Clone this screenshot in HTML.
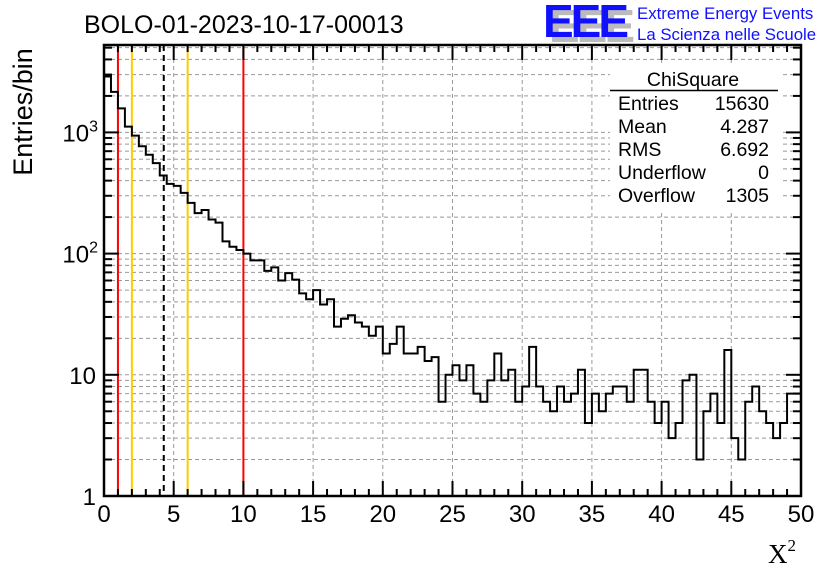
<!DOCTYPE html>
<html><head><meta charset="utf-8"><style>
body{margin:0;background:#fff}
svg{display:block;font-family:"Liberation Sans",sans-serif}
</style></head><body>
<svg id="c" width="836" height="572" viewBox="0 0 836 572">
<rect width="836" height="572" fill="#fff"/>
<g id="grid"></g>
<g id="lines"></g>
<path id="hist" fill="none" stroke="#000" stroke-width="2"/>
<g id="axes"></g>
<text x="84" y="33" font-size="25">BOLO-01-2023-10-17-00013</text>
<text transform="translate(32,112) rotate(-90)" text-anchor="middle" font-size="27">Entries/bin</text>
<text x="768" y="563" font-size="27" font-family="Liberation Serif,serif">X<tspan font-size="17" dy="-12">2</tspan></text>
<g>
<text x="549" y="42" font-size="46" font-weight="bold" fill="#bbb" letter-spacing="-3">EEE</text>
<text x="543" y="37" font-size="46" font-weight="bold" fill="#1010ff" letter-spacing="-3">EEE</text>
<text x="637" y="19" font-size="16.8" fill="#1010ff">Extreme Energy Events</text>
<text x="637" y="40" font-size="16.8" fill="#1010ff">La Scienza nelle Scuole</text>
</g>
<g font-size="19.5">
<rect x="610" y="64" width="170" height="146" fill="#fff"/>
<text x="693" y="86" text-anchor="middle">ChiSquare</text>
<line x1="610" y1="90.5" x2="778" y2="90.5" stroke="#000" stroke-width="1.5"/>
<text x="618" y="110">Entries</text><text x="769" y="110" text-anchor="end">15630</text>
<text x="618" y="133">Mean</text><text x="769" y="133" text-anchor="end">4.287</text>
<text x="618" y="156">RMS</text><text x="769" y="156" text-anchor="end">6.692</text>
<text x="618" y="179">Underflow</text><text x="769" y="179" text-anchor="end">0</text>
<text x="618" y="202">Overflow</text><text x="769" y="202" text-anchor="end">1305</text>
</g>
</svg>
<script>
const counts=[2890,2160,1580,1117,941,768,654,558,441,376,362,317,262,216,229,191,180,126,114,107,
100,88,88,72,77,60,69,61,47,42,50,38,42,25,29,31,27,25,21,25,
15,18,25,15,15,17,13,14,6,10,12,9,12,7,6,9,15,9,11,6,
8,17,8,6,5,8,6,7,11,4,7,5,7,8,8,6,11,11,6,4,
6,3,4,9,10,2,5,7,4,16,3,2,6,8,5,4,3,4,7,7];
const binWidth=0.5;
const xTicks=[0,5,10,15,20,25,30,35,40,45,50];
const yTickLabels=["1","10","10²","10³"];
const refRed=[1,10];
const refYellow=[2,6];
const refMean=[4.287];

const L=104,R=801,T=45,B=496,dec=121.2;
const X=v=>L+(v/50)*(R-L);
const Y=v=>B-dec*Math.log10(v);
const ns="http://www.w3.org/2000/svg";
function mk(tag,attrs,parent){const e=document.createElementNS(ns,tag);for(const k in attrs)e.setAttribute(k,attrs[k]);parent.appendChild(e);return e;}
const grid=document.getElementById('grid'),axes=document.getElementById('axes'),lines=document.getElementById('lines');
for(const t of xTicks){if(t===0||t===50)continue;
 const g=mk('line',{x1:X(t),x2:X(t),y1:T,y2:B,stroke:'#999','stroke-dasharray':'4,3','stroke-width':1},grid);
 }
const ymax=Math.pow(10,(B-T)/dec);
for(let d=1;d<=1000;d*=10)for(let m=1;m<=9;m++){const v=d*m;if(v<=1||v>=ymax)continue;
 const g=mk('line',{x1:L,x2:R,y1:Y(v),y2:Y(v),stroke:'#999','stroke-dasharray':'4,3','stroke-width':1},grid);
 
 const major=(m===1);const len=major?15:8;
 const a=mk('line',{x1:L,x2:L+len,y1:Y(v),y2:Y(v),stroke:'#000','stroke-width':2},axes);
 
 const b=mk('line',{x1:R,x2:R-len,y1:Y(v),y2:Y(v),stroke:'#000','stroke-width':2},axes);
 }
function vline(v,col,dash,name){const e=mk('line',{x1:X(v),x2:X(v),y1:T,y2:B,stroke:col,'stroke-width':2},lines);
 if(dash)e.setAttribute('stroke-dasharray','6,4');}
refRed.forEach(v=>vline(v,'#f00',false,'red-cut-line'));
refYellow.forEach(v=>vline(v,'#fc0',false,'yellow-cut-line'));
refMean.forEach(v=>vline(v,'#000',true,'mean-line'));
let d='M'+X(0)+','+B;
counts.forEach((c,i)=>{const y=Math.max(T,Math.min(B,Y(c)));d+=' L'+X(i*binWidth)+','+y+' L'+X((i+1)*binWidth)+','+y;});
d+=' L'+X(counts.length*binWidth)+','+B;
document.getElementById('hist').setAttribute('d',d);
for(let t=0;t<=50;t++){const major=t%5===0;const len=major?15:7;
 const a=mk('line',{x1:X(t),x2:X(t),y1:B,y2:B-len,stroke:'#000','stroke-width':2},axes);
 
 const b=mk('line',{x1:X(t),x2:X(t),y1:T,y2:T+len,stroke:'#000','stroke-width':2},axes);
 }
xTicks.forEach(t=>{const e=mk('text',{x:X(t),y:522,'text-anchor':'middle','font-size':24},axes);e.textContent=String(t);
 });
yTickLabels.forEach((s,i)=>{const y=Y(Math.pow(10,i));const e=mk('text',{x:96,y:y+9,'text-anchor':'end','font-size':24},axes);
 if(i>=2){e.textContent='10';const sp=mk('tspan',{dy:-10,'font-size':16},e);sp.textContent=String(i);e.setAttribute('x',98);}
 else e.textContent=s;
 });
const fr=mk('rect',{x:L,y:T,width:R-L,height:B-T,fill:'none',stroke:'#000','stroke-width':2.5},axes);

</script>
</body></html>
